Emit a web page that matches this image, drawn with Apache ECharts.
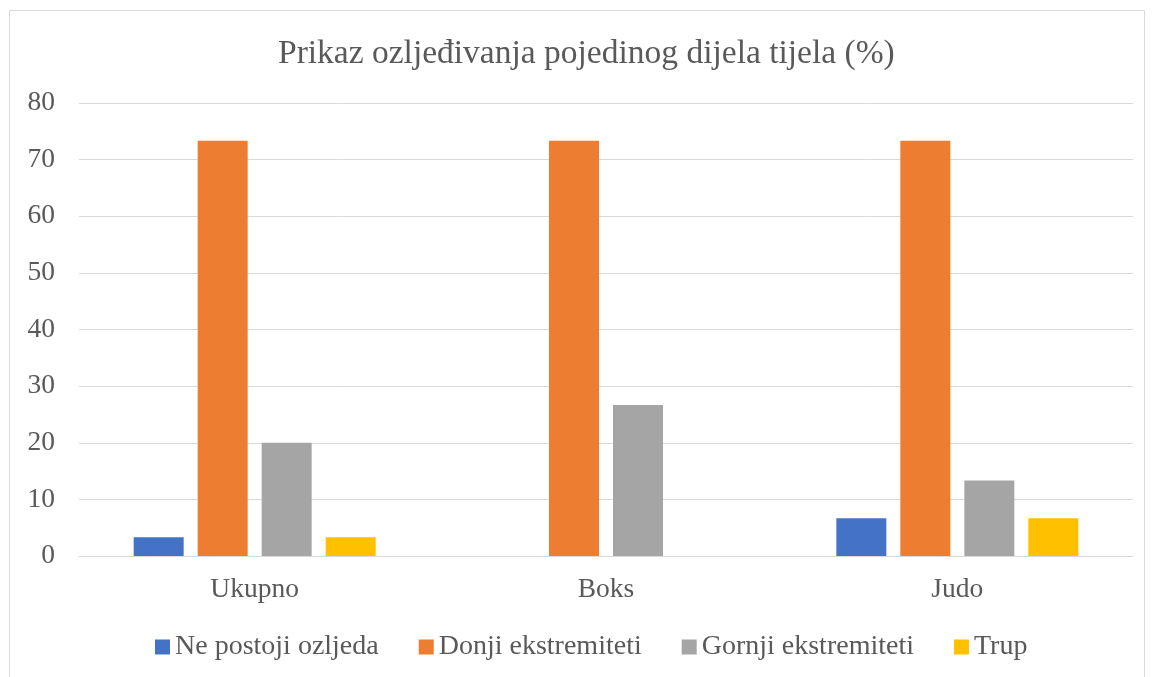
<!DOCTYPE html>
<html>
<head>
<meta charset="utf-8">
<script src="https://cdn.jsdelivr.net/npm/echarts@6/dist/echarts.min.js"></script>
<style>
  html, body { margin: 0; padding: 0; background: #fff; }
  #chart { width: 1155px; height: 677px; }
</style>
</head>
<body>
<div id="chart"></div>
<script>
// kategorije i vrijednosti (%)
const categories = ['Ukupno', 'Boks', 'Judo'];
const seriesNames = ['Ne postoji ozljeda', 'Donji ekstremiteti', 'Gornji ekstremiteti', 'Trup'];
const nePostoji = [3.33, 0, 6.67];
const donji = [73.33, 73.33, 73.33];
const gornji = [20, 26.67, 13.33];
const trup = [3.33, 0, 6.67];
const colors = ['#4472C4', '#ED7D31', '#A5A5A5', '#FFC000'];

const font = '"Liberation Serif", "DejaVu Serif", serif';
const textColor = '#595959';

const chart = echarts.init(document.getElementById('chart'));
const values = [nePostoji, donji, gornji, trup];

chart.setOption({
  animation: false,
  color: colors,
  title: {
    text: 'Prikaz ozljeđivanja pojedinog dijela tijela (%)',
    left: 273,
    top: 32,
    textStyle: { fontFamily: font, fontSize: 33.5, fontWeight: 'normal', color: textColor }
  },
  graphic: [{
    type: 'rect',
    shape: { x: 9.5, y: 10.5, width: 1135, height: 670 },
    style: { fill: 'none', stroke: '#d9d9d9', lineWidth: 1 },
    silent: true
  }],
  legend: {
    bottom: 11,
    left: 150,
    itemWidth: 15,
    itemHeight: 15,
    itemGap: 40,
    icon: 'rect',
    textStyle: { fontFamily: font, fontSize: 28, color: textColor },
    data: seriesNames
  },
  grid: { left: 79, right: 22, top: 103, bottom: 121, containLabel: false },
  xAxis: {
    type: 'category',
    data: categories,
    axisLine: { lineStyle: { color: '#d9d9d9', width: 1 } },
    axisTick: { show: false },
    axisLabel: { fontFamily: font, fontSize: 27.5, color: textColor, margin: 20 }
  },
  yAxis: {
    type: 'value',
    min: 0,
    max: 80,
    interval: 10,
    axisLine: { show: false },
    axisTick: { show: false },
    splitLine: { lineStyle: { color: '#d9d9d9', width: 1 } },
    axisLabel: { fontFamily: font, fontSize: 27.5, color: textColor, margin: 24 }
  },
  series: seriesNames.map((name, i) => ({
    name: name,
    type: 'bar',
    data: values[i],
    barWidth: 50,
    barGap: '28%',
    itemStyle: { color: colors[i] }
  }))
});
</script>
</body>
</html>
